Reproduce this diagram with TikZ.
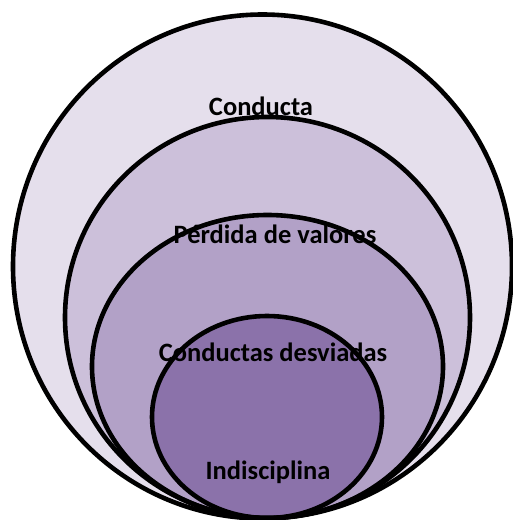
\documentclass[tikz,border=0pt]{standalone}
\usepackage{fontspec}
\setmainfont{Carlito}
\usepackage{tikz}

\begin{document}
\begin{tikzpicture}[x=1pt, y=-1pt,
    ring/.style={draw=black, line width=4.6pt},
    lbl/.style={font=\fontsize{26.5}{30}\selectfont\bfseries, inner sep=0pt}]
                % Page frame
                \useasboundingbox (0,0) rectangle (512,520);

                % Layer colours
                \definecolor{layerA}{RGB}{229,223,236}
                \definecolor{layerB}{RGB}{204,192,218}
                \definecolor{layerC}{RGB}{178,161,199}
                \definecolor{layerD}{RGB}{139,114,170}

                % Layer fills, outer to inner
                \fill[layerA] (262.5,266.5) ellipse (249.5 and 252);
                \fill[layerB] (267.5,317.5) ellipse (202.5 and 200.5);
                \fill[layerC] (267.5,366.5) ellipse (175.5 and 151.5);
                \fill[layerD] (267,417) ellipse (115 and 101);

                % Labels
                \node[lbl] (conducta) at (261,106) {Conducta};
                \node[lbl] (perdida) at (275,234) {Pérdida de valores};
                \node[lbl] (desviadas) at (273,352) {Conductas desviadas};
                \node[lbl] (indisciplina) at (268,472) {Indisciplina};

                % Outlines on top
                \draw[ring] (262.5,266.5) ellipse (249.5 and 252);
                \draw[ring] (267.5,317.5) ellipse (202.5 and 200.5);
                \draw[ring] (267.5,366.5) ellipse (175.5 and 151.5);
                \draw[ring] (267,417) ellipse (115 and 101);
\end{tikzpicture}
\end{document}
